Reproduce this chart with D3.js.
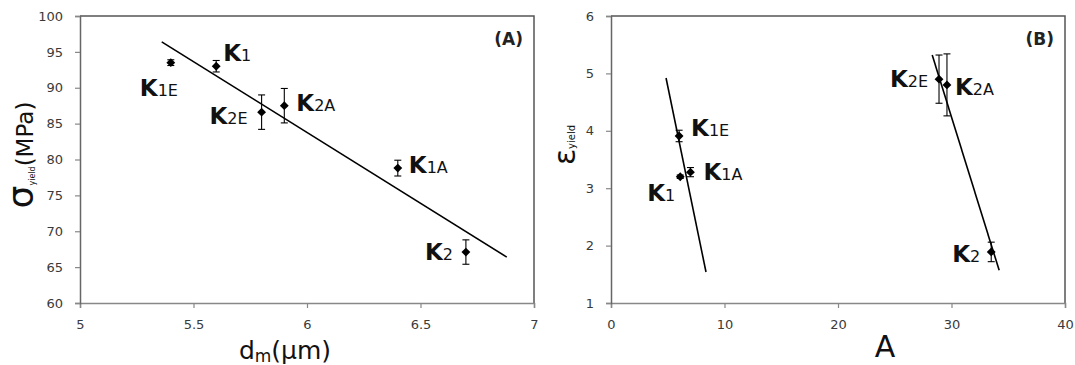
<!DOCTYPE html>
<html>
<head>
<meta charset="utf-8">
<script src="https://cdn.jsdelivr.net/npm/d3@7"></script>
<style>
  body { margin: 0; background: #fff; }
  svg text { font-family: "DejaVu Sans", sans-serif; }
</style>
</head>
<body>
<div id="chart"></div>
<script>
// ---- data (A): yield stress vs grain size
const namesA = ["K1E", "K1", "K2E", "K2A", "K1A", "K2"];
const dmA = [5.4, 5.6, 5.8, 5.9, 6.4, 6.7];
const sigmaA = [93.5, 93.0, 86.6, 87.5, 78.8, 67.1];
const sigmaErrA = [0.4, 0.8, 2.4, 2.4, 1.1, 1.7];
const fitAx = [5.36, 6.88];
const fitAy = [96.4, 66.4];
const ticksAx = [5, 5.5, 6, 6.5, 7];
const ticksAy = [60, 65, 70, 75, 80, 85, 90, 95, 100];

// ---- data (B): yield strain vs A
const namesB = ["K1E", "K1", "K1A", "K2E", "K2A", "K2"];
const aB = [6.0, 6.1, 7.0, 28.9, 29.6, 33.5];
const epsB = [3.91, 3.2, 3.28, 4.9, 4.8, 1.89];
const epsErrB = [0.1, 0.03, 0.08, 0.42, 0.54, 0.17];
const fitB1x = [4.85, 8.37];
const fitB1y = [4.92, 1.54];
const fitB2x = [28.3, 34.2];
const fitB2y = [5.32, 1.57];
const ticksBx = [0, 10, 20, 30, 40];
const ticksBy = [1, 2, 3, 4, 5, 6];

// label placement (pixel offsets from the marker, anchor)
const labelPosA = {
  K1E: [-31, 33, "start"], K1: [7, -5, "start"], K2E: [-14, 12, "end"],
  K2A: [12, 5, "start"], K1A: [11, 5, "start"], K2: [-13, 8, "end"]
};
const labelPosB = {
  K1E: [12, 0, "start"], K1: [-5, 24, "end"], K1A: [13, 8, "start"],
  K2E: [-11, 8, "end"], K2A: [8, 10, "start"], K2: [-11, 10, "end"]
};

const svg = d3.select("#chart").append("svg")
  .attr("width", 1075)
  .attr("height", 365);

function drawPanel(p) {
  const x = d3.scaleLinear().domain(p.xDomain).range([p.left, p.right]);
  const y = d3.scaleLinear().domain(p.yDomain).range([p.bottom, p.top]);
  const g = svg.append("g");

  // frame (top and right)
  g.append("path")
    .attr("d", `M${p.left},${p.top}H${p.right}V${p.bottom}`)
    .attr("fill", "none")
    .attr("stroke", "#555")
    .attr("stroke-width", 1.5);

  // axes
  const xAxis = g.append("g")
    .attr("transform", `translate(0,${p.bottom})`)
    .call(d3.axisBottom(x).tickValues(p.xTicks).tickSize(5).tickPadding(12)
      .tickFormat(d3.format("")));
  const yAxis = g.append("g")
    .attr("transform", `translate(${p.left},0)`)
    .call(d3.axisLeft(y).tickValues(p.yTicks).tickSize(5).tickPadding(12)
      .tickFormat(d3.format("")));
  [xAxis, yAxis].forEach(a => {
    a.select(".domain").attr("stroke", "#888").attr("stroke-width", 1.5);
    a.selectAll(".tick line").attr("stroke", "#888").attr("stroke-width", 1.2);
    a.selectAll(".tick text")
      .attr("fill", "#3a3a3a")
      .style("font-size", "13px")
      .style("font-family", "'DejaVu Sans', sans-serif");
  });
  yAxis.select(".domain").attr("stroke", "#666");

  // fit lines
  p.fits.forEach(f => {
    g.append("line")
      .attr("x1", x(f[0][0])).attr("y1", y(f[1][0]))
      .attr("x2", x(f[0][1])).attr("y2", y(f[1][1]))
      .attr("stroke", "#000")
      .attr("stroke-width", 1.6);
  });

  const pts = p.names.map((n, i) => ({ n: n, x: p.xs[i], y: p.ys[i], e: p.errs[i] }));

  // error bars
  const eb = g.selectAll(".eb").data(pts).join("g").attr("class", "eb");
  eb.append("line")
    .attr("x1", d => x(d.x)).attr("x2", d => x(d.x))
    .attr("y1", d => y(d.y - d.e)).attr("y2", d => y(d.y + d.e));
  eb.append("line")
    .attr("x1", d => x(d.x) - 3.5).attr("x2", d => x(d.x) + 3.5)
    .attr("y1", d => y(d.y - d.e)).attr("y2", d => y(d.y - d.e));
  eb.append("line")
    .attr("x1", d => x(d.x) - 3.5).attr("x2", d => x(d.x) + 3.5)
    .attr("y1", d => y(d.y + d.e)).attr("y2", d => y(d.y + d.e));
  eb.selectAll("line").attr("stroke", "#000").attr("stroke-width", 1.1);

  // markers
  g.selectAll(".pt").data(pts).join("path")
    .attr("class", "pt")
    .attr("d", d3.symbol(d3.symbolDiamond2, 50))
    .attr("transform", d => `translate(${x(d.x)},${y(d.y)})`)
    .attr("fill", "#000");

  // point labels: big K + smaller suffix on same baseline
  const lab = g.selectAll(".lab").data(pts).join("text")
    .attr("class", "lab")
    .attr("x", d => x(d.x) + p.labelPos[d.n][0])
    .attr("y", d => y(d.y) + p.labelPos[d.n][1])
    .attr("text-anchor", d => p.labelPos[d.n][2])
    .attr("fill", "#111");
  lab.append("tspan").text(d => d.n[0])
    .style("font-size", "23px").style("font-weight", "bold");
  lab.append("tspan").text(d => d.n.slice(1))
    .style("font-size", "16px");

  // panel tag
  g.append("text")
    .attr("x", p.right - 11).attr("y", p.top + 29)
    .attr("text-anchor", "end")
    .style("font-size", "17px").style("font-weight", "bold")
    .attr("fill", "#222")
    .text(p.tag);

  return g;
}

const gA = drawPanel({
  left: 80, right: 534, top: 16, bottom: 303,
  xDomain: [5, 7], yDomain: [60, 100], xTicks: ticksAx, yTicks: ticksAy,
  names: namesA, xs: dmA, ys: sigmaA, errs: sigmaErrA,
  fits: [[fitAx, fitAy]], labelPos: labelPosA, tag: "(A)"
});

const gB = drawPanel({
  left: 611, right: 1065, top: 16, bottom: 303,
  xDomain: [0, 40], yDomain: [1, 6], xTicks: ticksBx, yTicks: ticksBy,
  names: namesB, xs: aB, ys: epsB, errs: epsErrB,
  fits: [[fitB1x, fitB1y], [fitB2x, fitB2y]], labelPos: labelPosB, tag: "(B)"
});

// axis titles
const tA = gA.append("text")
  .attr("transform", "translate(33,155) rotate(-90)")
  .attr("text-anchor", "middle")
  .attr("fill", "#111");
tA.append("tspan").text("σ").style("font-size", "36px");
tA.append("tspan").text("yield").style("font-size", "8px").attr("dy", 2);
tA.append("tspan").text("(MPa)").style("font-size", "23px").attr("dy", -2);

const xA = gA.append("text")
  .attr("x", 285).attr("y", 359)
  .attr("text-anchor", "middle")
  .attr("fill", "#111");
xA.append("tspan").text("d").style("font-size", "25px");
xA.append("tspan").text("m").style("font-size", "17px").attr("dy", 3);
xA.append("tspan").text("(μm)").style("font-size", "25px").attr("dy", -3);

const tB = gB.append("text")
  .attr("transform", "translate(575,145) rotate(-90)")
  .attr("text-anchor", "middle")
  .attr("fill", "#111");
tB.append("tspan").text("ε").style("font-size", "30px");
tB.append("tspan").text("yield").style("font-size", "10px");

gB.append("text")
  .attr("x", 885).attr("y", 357)
  .attr("text-anchor", "middle")
  .style("font-size", "30px")
  .attr("fill", "#111")
  .text("A");
</script>
</body>
</html>
